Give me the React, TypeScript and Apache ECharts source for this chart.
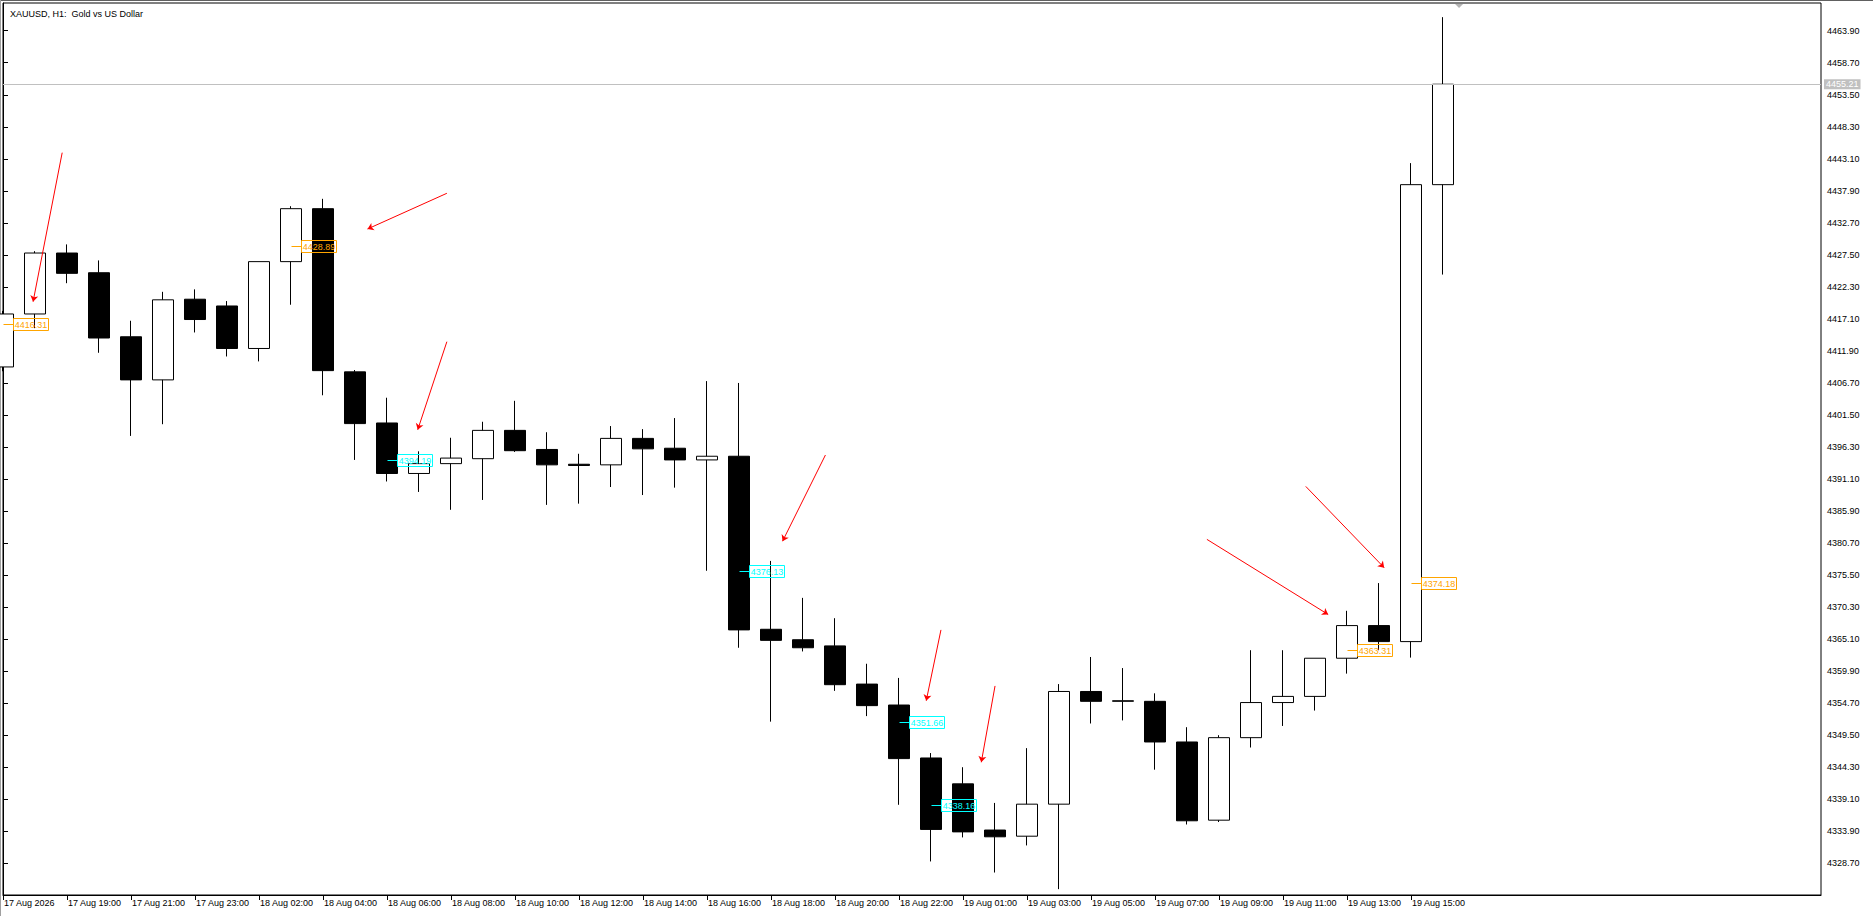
import { useEffect, useRef } from 'react';
import * as echarts from 'echarts';

const FONT = '"Liberation Sans", Arial, sans-serif';

// XAUUSD H1 bars, 17 Aug 17:00 .. 19 Aug 16:00 (no 00:00 bar)
const barTimes = [
  '17 Aug 17:00', '17 Aug 18:00', '17 Aug 19:00', '17 Aug 20:00', '17 Aug 21:00', '17 Aug 22:00', '17 Aug 23:00',
  '18 Aug 01:00', '18 Aug 02:00', '18 Aug 03:00', '18 Aug 04:00', '18 Aug 05:00', '18 Aug 06:00', '18 Aug 07:00',
  '18 Aug 08:00', '18 Aug 09:00', '18 Aug 10:00', '18 Aug 11:00', '18 Aug 12:00', '18 Aug 13:00', '18 Aug 14:00',
  '18 Aug 15:00', '18 Aug 16:00', '18 Aug 17:00', '18 Aug 18:00', '18 Aug 19:00', '18 Aug 20:00', '18 Aug 21:00',
  '18 Aug 22:00', '18 Aug 23:00', '19 Aug 01:00', '19 Aug 02:00', '19 Aug 03:00', '19 Aug 04:00', '19 Aug 05:00',
  '19 Aug 06:00', '19 Aug 07:00', '19 Aug 08:00', '19 Aug 09:00', '19 Aug 10:00', '19 Aug 11:00', '19 Aug 12:00',
  '19 Aug 13:00', '19 Aug 14:00', '19 Aug 15:00', '19 Aug 16:00',
];

const opens = [
  4409.3, 4417.9, 4427.8, 4424.6, 4414.2, 4407.2, 4420.3, 4419.2, 4412.3, 4426.4, 4435.0, 4408.5,
  4400.2, 4392.0, 4393.6, 4394.4, 4399.0, 4395.9, 4393.5, 4393.4, 4397.7, 4396.1, 4394.2, 4394.8,
  4366.7, 4365.0, 4364.0, 4357.8, 4354.4, 4345.8, 4341.6, 4334.1, 4333.1, 4338.3, 4356.6, 4355.0,
  4355.0, 4348.4, 4335.7, 4349.1, 4354.8, 4355.8, 4362.0, 4367.3, 4364.7, 4438.9,
];
const closes = [
  4417.9, 4427.8, 4424.5, 4414.0, 4407.2, 4420.2, 4417.0, 4412.3, 4426.4, 4435.0, 4408.7, 4400.1,
  4392.0, 4393.6, 4394.5, 4399.0, 4395.7, 4393.4, 4393.3, 4397.7, 4396.0, 4394.2, 4394.8, 4366.6,
  4364.9, 4363.7, 4357.7, 4354.3, 4345.7, 4334.2, 4333.8, 4333.0, 4338.3, 4356.6, 4355.0, 4355.1,
  4348.4, 4335.6, 4349.1, 4354.8, 4355.8, 4362.0, 4367.3, 4364.7, 4438.9, 4455.21,
];
const lows = [
  4408.6, 4415.6, 4422.9, 4411.6, 4398.1, 4400.0, 4414.9, 4411.0, 4410.2, 4419.4, 4404.7, 4394.2,
  4390.7, 4389.0, 4386.1, 4387.7, 4395.5, 4386.9, 4387.1, 4389.8, 4388.5, 4389.7, 4376.2, 4363.7,
  4351.7, 4363.1, 4356.7, 4352.6, 4338.2, 4329.0, 4332.9, 4327.2, 4331.6, 4324.5, 4351.4, 4351.9,
  4343.9, 4335.0, 4335.4, 4347.5, 4351.0, 4353.5, 4359.5, 4363.3, 4362.1, 4424.3,
];
const highs = [
  4418.4, 4428.1, 4429.2, 4426.6, 4416.8, 4421.5, 4421.9, 4420.0, 4426.4, 4435.4, 4436.6, 4408.8,
  4404.3, 4395.6, 4397.8, 4400.4, 4403.8, 4398.7, 4395.2, 4399.7, 4399.2, 4401.0, 4407.0, 4406.7,
  4377.8, 4371.8, 4368.5, 4361.1, 4358.8, 4346.6, 4344.3, 4338.5, 4347.4, 4357.8, 4362.2, 4360.4,
  4356.3, 4350.8, 4349.5, 4363.3, 4363.3, 4362.0, 4369.7, 4374.2, 4442.4, 4466.1,
];

const bidPrice = 4455.21;

// time scale labels sit on every second bar
const xTickIndex = [0, 2, 4, 6, 8, 10, 12, 14, 16, 18, 20, 22, 24, 26, 28, 30, 32, 34, 36, 38, 40, 42, 44];
const xTickLabels = [
  '17 Aug 2026', '17 Aug 19:00', '17 Aug 21:00', '17 Aug 23:00', '18 Aug 02:00', '18 Aug 04:00',
  '18 Aug 06:00', '18 Aug 08:00', '18 Aug 10:00', '18 Aug 12:00', '18 Aug 14:00', '18 Aug 16:00',
  '18 Aug 18:00', '18 Aug 20:00', '18 Aug 22:00', '19 Aug 01:00', '19 Aug 03:00', '19 Aug 05:00',
  '19 Aug 07:00', '19 Aug 09:00', '19 Aug 11:00', '19 Aug 13:00', '19 Aug 15:00',
];

const yTickValues = [
  4328.7, 4333.9, 4339.1, 4344.3, 4349.5, 4354.7, 4359.9, 4365.1, 4370.3, 4375.5, 4380.7, 4385.9,
  4391.1, 4396.3, 4401.5, 4406.7, 4411.9, 4417.1, 4422.3, 4427.5, 4432.7, 4437.9, 4443.1, 4448.3,
  4453.5, 4458.7, 4463.9,
];
const yMin = 4323.55;
const yMax = 4468.4;
const visibleBars = 56.81; // chart width in bar slots

// price label objects: anchor bar, price, colour
const labelBars = [0, 9, 12, 23, 28, 29, 42, 44];
const labelPrices = [4416.31, 4428.89, 4394.19, 4376.13, 4351.66, 4338.16, 4363.31, 4374.18];
const labelColors = ['#FFA500', '#FFA500', '#00FFFF', '#00FFFF', '#00FFFF', '#00FFFF', '#FFA500', '#FFA500'];

// red arrows: [bar, price] start -> end
const arrowFrom = [
  [1.85, 4444.1], [13.87, 4437.5], [13.87, 4413.4], [25.7, 4395.0],
  [29.31, 4366.6], [31.0, 4357.5], [37.62, 4381.3], [40.71, 4389.9],
];
const arrowTo = [
  [0.94, 4419.9], [11.39, 4431.7], [12.96, 4399.1], [24.36, 4381.0],
  [28.85, 4355.1], [30.57, 4345.1], [41.41, 4369.1], [43.16, 4376.7],
];

export default function App() {
  const chartRef = useRef<HTMLDivElement>(null);

  useEffect(() => {
    if (!chartRef.current) return;
    const chart = echarts.init(chartRef.current, null, { renderer: 'svg' });

    const ohlc = barTimes.map((_, i) => [i, opens[i], closes[i], lows[i], highs[i]]);
    const labels = labelBars.map((b, i) => [b, labelPrices[i], i]);

    const arrowLines = arrowFrom.map((a, i) => [
      { coord: a, symbol: 'none' },
      { coord: arrowTo[i], symbol: 'arrow', symbolSize: 6 },
    ]);

    const option: echarts.EChartsOption = {
      animation: false,
      backgroundColor: '#fff',
      title: {
        text: 'XAUUSD, H1:  Gold vs US Dollar',
        left: 5,
        top: 4,
        textStyle: { fontSize: 9, fontWeight: 'normal', color: '#000', fontFamily: FONT },
      },
      grid: {
        left: 3,
        top: 3,
        right: 52,
        bottom: 21,
        show: true,
        borderColor: '#000',
        borderWidth: 1,
        backgroundColor: '#fff',
      },
      xAxis: {
        type: 'value',
        min: 0,
        max: visibleBars,
        axisLine: { show: true, lineStyle: { color: '#000' } },
        axisTick: { show: true, customValues: xTickIndex, length: 5, lineStyle: { color: '#000' } },
        axisLabel: {
          customValues: xTickIndex,
          formatter: (v: number) => xTickLabels[xTickIndex.indexOf(v)] ?? '',
          align: 'left',
          margin: 3,
          padding: [0, 0, 0, 1],
          color: '#000',
          fontSize: 9,
          fontFamily: FONT,
        },
        splitLine: { show: false },
      },
      yAxis: {
        type: 'value',
        position: 'right',
        min: yMin,
        max: yMax,
        axisLine: { show: true, lineStyle: { color: '#000' } },
        axisTick: { show: true, customValues: yTickValues, length: 5, lineStyle: { color: '#000' } },
        axisLabel: {
          customValues: yTickValues,
          formatter: (v: number) => v.toFixed(2),
          margin: 6,
          color: '#000',
          fontSize: 9,
          fontFamily: FONT,
        },
        splitLine: { show: false },
      },
      series: [
        {
          type: 'candlestick',
          data: ohlc,
          encode: { x: 0, y: [1, 2, 3, 4] },
          barWidth: 21,
          clip: true,
          itemStyle: {
            color: '#fff',
            color0: '#000',
            borderColor: '#000',
            borderColor0: '#000',
            borderColorDoji: '#000',
            borderWidth: 1,
          },
          emphasis: { disabled: true },
          markLine: {
            silent: true,
            animation: false,
            symbol: 'none',
            label: { show: false },
            emphasis: { disabled: true },
            lineStyle: { color: '#ff0000', width: 1, type: 'solid' },
            data: [
              ...arrowLines,
              {
                yAxis: bidPrice,
                symbol: 'none',
                lineStyle: { color: '#c0c0c0', width: 1, type: 'solid' },
                label: {
                  show: true,
                  position: 'end',
                  distance: 3,
                  formatter: bidPrice.toFixed(2),
                  color: '#fff',
                  backgroundColor: '#c0c0c0',
                  padding: [1, 2, 0, 2],
                  fontSize: 9,
                  fontFamily: FONT,
                },
              },
            ] as any,
          },
          z: 2,
        },
        {
          type: 'custom',
          data: labels,
          encode: { x: 0, y: 1 },
          z: 5,
          silent: true,
          renderItem: (_params: any, api: any) => {
            const p = api.coord([api.value(0), api.value(1)]);
            const color = labelColors[api.value(2)];
            const x = Math.round(p[0]) + 0.5;
            const y = Math.round(p[1]) + 0.5;
            return {
              type: 'group',
              children: [
                { type: 'line', shape: { x1: x, y1: y, x2: x + 10, y2: y }, style: { stroke: color, lineWidth: 1 } },
                {
                  type: 'rect',
                  shape: { x: x + 10, y: y - 6, width: 35, height: 12 },
                  style: { fill: 'none', stroke: color, lineWidth: 1 },
                },
                {
                  type: 'text',
                  style: {
                    text: Number(api.value(1)).toFixed(2),
                    x: x + 27.5,
                    y: y + 0.5,
                    align: 'center',
                    verticalAlign: 'middle',
                    fill: color,
                    font: `9px ${FONT}`,
                  },
                },
              ],
            };
          },
        },
      ],
    };

    chart.setOption(option);

    // chart-shift marker at the top border, half a bar after the last candle
    const shiftX = chart.convertToPixel({ xAxisIndex: 0 }, barTimes.length - 0.5) as number;
    chart.setOption({
      graphic: [
        { type: 'line', shape: { x1: 0, y1: 0.5, x2: 1873, y2: 0.5 }, style: { stroke: '#606060', lineWidth: 1 }, silent: true },
        { type: 'line', shape: { x1: 0.5, y1: 0, x2: 0.5, y2: 916 }, style: { stroke: '#a0a0a0', lineWidth: 1 }, silent: true },
        {
          type: 'polygon',
          shape: { points: [[shiftX - 4, 4], [shiftX + 4, 4], [shiftX, 8]] },
          style: { fill: '#b4b4b4' },
          silent: true,
        },
      ],
    });

    const handleResize = () => chart.resize();
    window.addEventListener('resize', handleResize);
    return () => {
      window.removeEventListener('resize', handleResize);
      chart.dispose();
    };
  }, []);

  return (
    <div
      ref={chartRef}
      style={{ position: 'fixed', left: 0, top: 0, width: '100vw', height: '100vh', background: '#fff' }}
    />
  );
}
